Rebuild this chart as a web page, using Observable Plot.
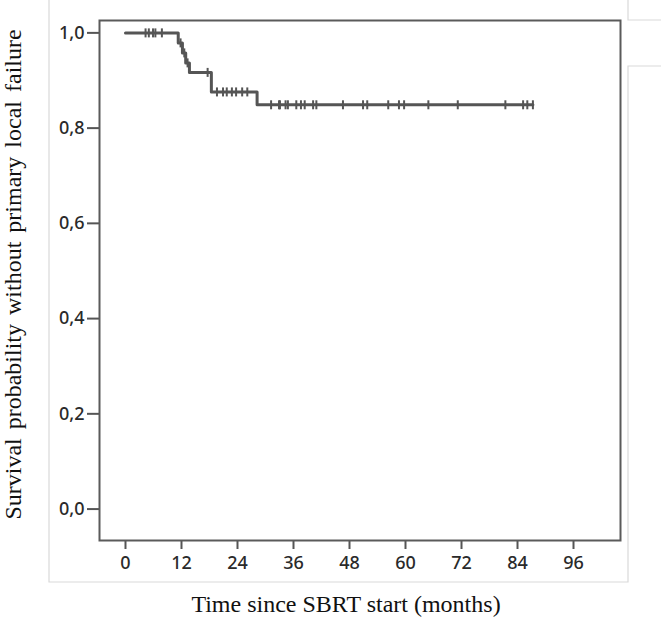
<!DOCTYPE html>
<html><head><meta charset="utf-8">
<script src="https://cdn.jsdelivr.net/npm/d3@7"></script>
<script src="https://cdn.jsdelivr.net/npm/@observablehq/plot@0.6"></script>
<style>body{margin:0;background:#fff} #chart{width:661px;height:619px}</style>
</head><body><div id="chart"></div>
<script>
// Kaplan–Meier step data (time in months, survival probability)
const eventTimes = [0, 11.3, 12.2, 12.9, 13.7, 18.4, 28.2];
const eventSurv  = [1.0, 0.979, 0.958, 0.937, 0.917, 0.876, 0.849];
const endTime = 87.3;
// censored observations (months)
const censorTimes = [4.3, 5.0, 5.9, 6.4, 7.8, 11.8, 12.6, 13.3, 17.6,
  19.6, 20.9, 21.7, 22.8, 23.7, 25.0, 26.1,
  31.2, 32.9, 33.1, 34.3, 34.8, 36.6, 37.6, 38.4, 40.2, 40.9, 46.6,
  50.9, 51.8, 56.3, 58.6, 59.7, 64.9, 71.2, 81.4, 85.2, 86.1, 87.3];
const xTicks = [0, 12, 24, 36, 48, 60, 72, 84, 96];
const yTicks = [0, 0.2, 0.4, 0.6, 0.8, 1.0];
const xTitle = "Time since SBRT start (months)";
const yTitle = "Survival probability without primary local failure";

const curve = eventTimes.map((t, i) => ({t, s: eventSurv[i]}));
curve.push({t: endTime, s: eventSurv[eventSurv.length - 1]});
const survAt = t => { let s = 1; eventTimes.forEach((e, i) => { if (e <= t) s = eventSurv[i]; }); return s; };
const censors = censorTimes.map(t => ({t, s: survAt(t)}));

const vbar = {draw(ctx, size) { const r = Math.sqrt(size / Math.PI); ctx.moveTo(0, -r); ctx.lineTo(0, r); }};
const tickFont = {fontFamily: "Noto Sans", fontSize: 18, fontWeight: 500, fill: "#2a2a2a"};

const plot = Plot.plot({
  width: 661, height: 619,
  marginLeft: 99, marginRight: 41, marginTop: 20, marginBottom: 79,
  x: {domain: [-5.57, 106.07]},
  y: {domain: [-0.066, 1.026]},
  style: {background: "#fff"},
  marks: [
    Plot.axisX({ticks: xTicks, tickSize: 9, tickPadding: 7, label: null, tickFormat: d => String(d),
      stroke: "#555", strokeWidth: 2, ...tickFont}),
    Plot.axisY({ticks: yTicks, tickSize: 12, tickPadding: 3, label: null,
      tickFormat: d => d.toFixed(1).replace(".", ","), stroke: "#555", strokeWidth: 2, ...tickFont}),
    Plot.frame({stroke: "#5a5a5a", strokeWidth: 2}),
    Plot.line(curve, {x: "t", y: "s", curve: "step-after", stroke: "#555", strokeWidth: 3}),
    Plot.dot(censors, {x: "t", y: "s", symbol: vbar, r: 4.5, stroke: "#555", strokeWidth: 2}),
    Plot.text([yTitle], {frameAnchor: "left", textAnchor: "middle", rotate: -90, dx: -86, dy: -6, text: d => d,
      fontFamily: "Liberation Serif", fontSize: 24, fill: "#111"}),
    Plot.text([xTitle], {frameAnchor: "bottom", textAnchor: "middle", dy: 71, dx: -14, text: d => d,
      fontFamily: "Liberation Serif", fontSize: 24, fill: "#111"})
  ]
});

const svg = d3.select(plot);
svg.selectAll("text").filter(function() { return this.textContent === yTitle; }).style("word-spacing", "3px");
// decorative outer panel lines (light gray)
const deco = svg.append("g").attr("stroke", "#d9d9d9").attr("stroke-width", 1.2).attr("fill", "none");
deco.append("path").attr("d", "M49,0V582H628V66H661M628,0V20H661");
document.getElementById("chart").appendChild(plot);
</script>
</body></html>
